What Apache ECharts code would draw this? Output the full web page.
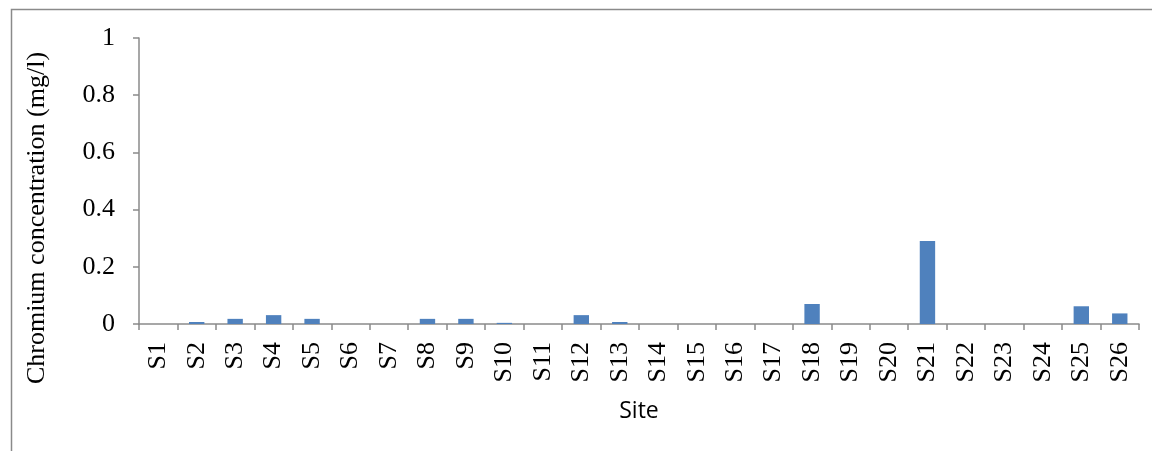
<!DOCTYPE html>
<html lang="en">
<head>
	<meta charset="utf-8">
	<title>Chromium concentration</title>
	<script src="https://cdn.jsdelivr.net/npm/echarts@6/dist/echarts.min.js"></script>
	<style>
		html, body { margin: 0; padding: 0; background: #fff; }
		#chart { width: 1152px; height: 451px; }
	</style>
</head>
<body>
<div id="chart"></div>
<script>
    // sites S1..S26
    var sites = ['S1', 'S2', 'S3', 'S4', 'S5', 'S6', 'S7', 'S8', 'S9', 'S10', 'S11', 'S12', 'S13',
        'S14', 'S15', 'S16', 'S17', 'S18', 'S19', 'S20', 'S21', 'S22', 'S23', 'S24', 'S25', 'S26'];
    // chromium (mg/l)
    var chromium = [0, 0.007, 0.018, 0.031, 0.018, 0, 0, 0.018, 0.018, 0.004, 0, 0.031, 0.007,
        0, 0, 0, 0, 0.07, 0, 0, 0.29, 0, 0, 0, 0.062, 0.037];
    var yTicks = [0, 0.2, 0.4, 0.6, 0.8, 1];

    var serif = 'Liberation Serif';
    var chart = echarts.init(document.getElementById('chart'));
    var option = {
        animation: false,
        graphic: [{
            type: 'rect',
            shape: { x: 11.5, y: 9.5, width: 1200, height: 500 },
            style: { fill: 'none', stroke: '#8a8a8a', lineWidth: 1.5 },
            silent: true
        }, {
            // y axis title sits lower than the plot centre in the original
            type: 'text',
            x: 37,
            y: 218,
            rotation: Math.PI / 2,
            style: {
                text: 'Chromium concentration (mg/l)',
                font: '26px Liberation Serif',
                fill: '#000',
                align: 'center',
                verticalAlign: 'middle'
            },
            silent: true
        }],
        grid: {
            left: 139,
            right: 13,
            top: 38,
            bottom: 127
        },
        xAxis: {
            type: 'category',
            data: sites,
            name: 'Site',
            nameLocation: 'middle',
            nameGap: 76,
            nameTextStyle: { fontFamily: 'Open Sans', fontSize: 23, color: '#000' },
            axisLine: { lineStyle: { color: '#8a8a8a', width: 1.5 } },
            axisTick: { show: true, length: 6, lineStyle: { color: '#8a8a8a', width: 1.5 } },
            axisLabel: {
                rotate: 90,
                interval: 0,
                margin: 18,
                fontFamily: serif,
                fontSize: 26,
                color: '#000'
            }
        },
        yAxis: {
            type: 'value',
            min: 0,
            max: 1,
            interval: 0.2,
            splitLine: { show: false },
            axisLine: { show: true, lineStyle: { color: '#8a8a8a', width: 1.5 } },
            axisTick: { show: true, length: 6, lineStyle: { color: '#8a8a8a', width: 1.5 } },
            axisLabel: {
                margin: 24,
                fontFamily: serif,
                fontSize: 26,
                color: '#000',
                formatter: function (v) {
                    var i = yTicks.indexOf(Math.round(v * 10) / 10);
                    return i >= 0 ? String(yTicks[i]) : '';
                }
            }
        },
        series: [{
            type: 'bar',
            data: chromium,
            barWidth: '40%',
            itemStyle: { color: '#4f81bd' }
        }]
    };
    chart.setOption(option);
</script>
</body>
</html>
